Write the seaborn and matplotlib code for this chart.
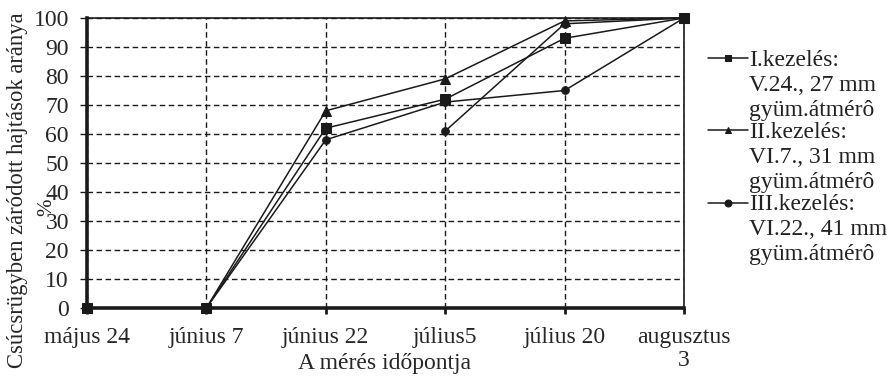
import numpy as np
import pandas as pd
import matplotlib
matplotlib.use("Agg")
import matplotlib.pyplot as plt
import seaborn as sns

# Measurement dates (category axis)
dates = ["május 24", "június 7", "június 22", "július5", "július 20", "augusztus\n3"]

# Share of shoots closed in a terminal bud (%)
kez_1 = [0, 0, 62, 72, 93, 100]
kez_2 = [0, 0, 68, 79, 99, 100]
kez_3 = [0, 0, 58, 71, 75, 100]
# additional segment drawn with round markers (from július5 onward)
kez_extra = [61, 98, 100]

labels = [
    "I.kezelés:\nV.24., 27 mm\ngyüm.átmérô",
    "II.kezelés:\nVI.7., 31 mm\ngyüm.átmérô",
    "III.kezelés:\nVI.22., 41 mm\ngyüm.átmérô",
]
y_ticks = list(range(0, 101, 10))

sns.set_style("white")
plt.rcParams["font.family"] = ["Liberation Serif", "DejaVu Serif"]
plt.rcParams["text.color"] = "#222222"

FS = 17

fig = plt.figure(figsize=(8.91, 3.81), dpi=100)
ax = fig.add_axes([0.0976, 0.1916, 0.6701, 0.7612])

pos = np.arange(len(dates))
series = [(kez_1, "s", 6.5, labels[0]),
          (kez_2, "^", 6.5, labels[1]),
          (kez_3, "o", 5.5, labels[2])]
for vals, mk, ms, lab in series:
    sns.lineplot(x=pos, y=vals, ax=ax, color="#1a1a1a", lw=1.1, marker=mk,
                 markersize=ms, markeredgecolor="#1a1a1a", label=lab,
                 clip_on=False, zorder=5)
sns.lineplot(x=pos[len(dates) - len(kez_extra):], y=kez_extra, ax=ax,
             color="#1a1a1a", lw=1.1, marker="o", markersize=5.5,
             markeredgecolor="#1a1a1a", clip_on=False, zorder=5, legend=False)

ax.set_xlim(0, len(dates) - 1)
ax.set_ylim(0, 100)
ax.set_xticks(pos)
ax.set_xticklabels(dates, fontsize=FS, linespacing=1.1)
ax.set_yticks(y_ticks)
ax.set_yticklabels([str(v) for v in y_ticks], fontsize=FS)

ax.grid(True, color="#1a1a1a", lw=1.0, linestyle=(0, (4, 2.5)))
ax.set_axisbelow(True)
for side in ["left", "bottom"]:
    ax.spines[side].set_linewidth(2.6)
    ax.spines[side].set_color("#1a1a1a")
for side in ["top", "right"]:
    ax.spines[side].set_linewidth(1.2)
    ax.spines[side].set_color("#1a1a1a")
ax.tick_params(axis="y", direction="out", length=5, width=1, color="#1a1a1a", pad=8, left=True)
ax.tick_params(axis="x", direction="out", length=4, width=2, color="#1a1a1a", pad=10, bottom=True)

ax.set_xlabel("A mérés időpontja", fontsize=FS)
ax.xaxis.set_label_coords(0.498, -0.155)
ax.set_ylabel("Csúcsrügyben záródott hajtások aránya", fontsize=16.3)
ax.yaxis.set_label_coords(-0.099, 0.405)
fig.text(0.053, 0.455, "%", rotation=90, fontsize=15, ha="center", va="center")

leg = ax.legend(loc="upper left", bbox_to_anchor=(1.04, 0.89), frameon=False,
                fontsize=FS, handlelength=1.7, handletextpad=0.05,
                labelspacing=0.05, borderaxespad=0, borderpad=0)
for col in leg._legend_handle_box.get_children():
    for row in col.get_children():
        row.align = "top"
for line in leg.get_lines():
    line.set_markersize(5)
for t in leg.get_texts():
    t.set_linespacing(1.25)

fig.savefig("out.png", dpi=100)
